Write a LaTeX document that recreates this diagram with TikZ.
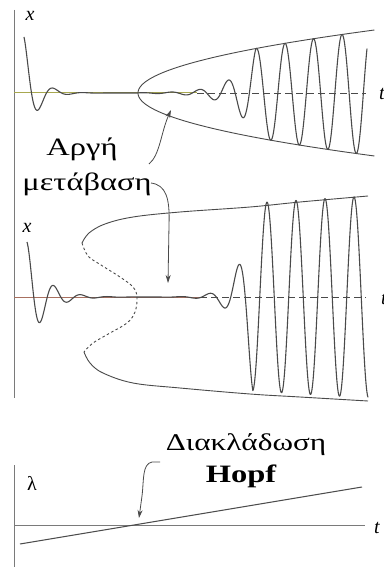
\documentclass[tikz,border=0pt]{standalone}
\usepackage{fontspec}
\setmainfont{Liberation Serif}
\newfontfamily\widefont[FakeStretch=1.3]{Liberation Serif}
\usetikzlibrary{arrows.meta}
\definecolor{curve}{HTML}{4A4A4A}
\definecolor{axisgray}{HTML}{7A7A7A}
\definecolor{olive1}{HTML}{A8A850}
\definecolor{rust1}{HTML}{A87060}
\tikzset{
  sig/.style={curve, line width=1.1pt, line join=round},
  env/.style={curve, line width=0.9pt},
  envdash/.style={curve, line width=0.9pt, dash pattern=on 2.5pt off 2.5pt},
  vaxis/.style={axisgray, line width=1pt},
  haxis/.style={line width=1pt},
  axdash/.style={curve, line width=0.9pt, dash pattern=on 7pt off 4pt},
  lbl/.style={inner sep=0pt, anchor=base, font=\widefont\fontsize{25}{27}\selectfont},
  axl/.style={inner sep=0pt, anchor=base, font=\fontsize{20}{22}\selectfont\itshape},
  pointer/.style={curve, line width=0.8pt, -{Stealth[length=8pt,width=5pt]}},
}
\begin{document}
\begin{tikzpicture}[x=1pt,y=-1pt]
\useasboundingbox (0,0) rectangle (383,567);
\fill[white] (0,0) rectangle (383,567);

% ---------- Panel 1 ----------
\draw[vaxis] (14,10) -- (14,196);
\draw[haxis, olive1] (14,93) -- (197,93);
\draw[axdash] (197,93) -- (366,93);
\node[axl] (t1) at (382,100) {t};
\node[axl] (x1) at (30,21) {x};
\draw[env] plot[domain=-63:63, samples=80] ({138+229*(\x/62)^2}, {93-\x});
\draw[sig] plot[domain=24:367, samples=700]
  (\x, {93 - 56*exp(max(-(\x-24)/12,-8))*cos(12*(\x-24))
   - min(62*sqrt(max(\x-138,0)/229), 45*exp(max(min(0.045*(\x-256),0.5),-8)))*cos(12.6316*(\x-228))});

% ---------- Panel 2 ----------
\draw[vaxis] (14,196) -- (14,398);
\draw[haxis, rust1] (14,297) -- (200,297);
\draw[axdash] (200,297) -- (366,297);
\node[axl] (t2) at (384,304) {t};
\node[axl] (x2) at (27,232) {x};
\draw[env] plot[smooth, tension=0.6] coordinates {(368,196) (300,202) (250,207) (180,212) (133,217) (105,224) (89,233) (82,243)};
\draw[envdash] plot[smooth, tension=0.6] coordinates {(82,243) (88,256) (101,265) (120,277) (133,287) (137,297) (135,312) (127,323) (110,333) (93,343) (84,352)};
\draw[env] plot[smooth, tension=0.6] coordinates {(84,352) (90,363) (103,373) (133,383) (180,388) (250,394) (300,397) (368,401)};
\draw[sig] plot[domain=27:368, samples=700]
  (\x, {297 - 55*exp(max(-(\x-27)/17,-8))*cos(13.3333*(\x-27))
   - min(94+0.06*(\x-253), 95*exp(max(min(0.075*(\x-253),0.2),-8)))*cos(12.4138*(\x-238))});

% ---------- Labels "Slow transition" ----------
\node[lbl] (slow1) at (82,155) {Αργή};
\node[lbl] (slow2) at (87,190) {μετάβαση};
\coordinate (s1a) at (149,164);
\coordinate (s1b) at (171,110);
\coordinate (s2a) at (151,183);
\coordinate (s2b) at (168,283);
\draw[pointer] (s1a) .. controls (160,155) and (161,132) .. (s1b);
\draw[pointer] (s2a) .. controls (166,185) and (170,198) .. (169,225) -- (s2b);

% ---------- Panel 3 ----------
\draw[vaxis] (14,465) -- (14,567);
\draw[haxis, axisgray] (14,525) -- (365,525);
\node[axl] (t3) at (377,533) {t};
\node[inner sep=0pt, anchor=base, font=\fontsize{20}{22}\selectfont] (lam) at (32,490) {λ};
\coordinate (l1) at (20,544);
\coordinate (l2) at (362,487);
\draw[curve, line width=1pt] (l1) -- (l2);
\node[lbl, font=\widefont\fontsize{24}{26}\selectfont] (hopf1) at (246,450) {Διακλάδωση};
\node[lbl, font=\widefont\fontsize{25}{27}\selectfont\bfseries] (hopf2) at (241,482) {Hopf};
\coordinate (h1) at (160,462);
\coordinate (h2) at (139,518);
\draw[pointer] (h1) -- (152,462) .. controls (142,464) and (144,480) .. (142,496) -- (h2);
\end{tikzpicture}
\end{document}
